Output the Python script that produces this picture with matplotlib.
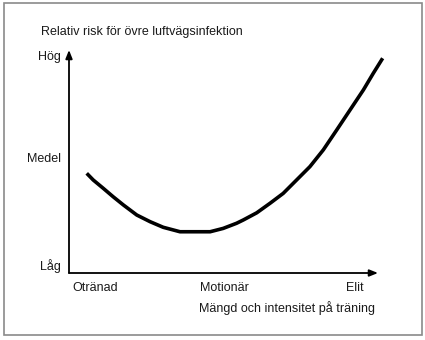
import matplotlib.pyplot as plt
from matplotlib.patches import Rectangle

# Relative risk of upper respiratory infection vs. training load (J-curve)
load = [5.7, 7.8, 11.0, 14.2, 17.5, 21.8, 26.1, 30.3, 35.7, 41.1, 45.4,
        49.6, 53.9, 56.1, 60.4, 64.7, 68.9, 73.2, 77.5, 81.8, 86.1, 90.4,
        94.7, 97.9, 100.9]
risk = [44.7, 41.7, 38.0, 34.2, 30.5, 26.0, 23.0, 20.5, 18.5, 18.5, 18.5,
        20.0, 22.3, 23.8, 27.0, 31.3, 35.7, 41.7, 47.7, 55.2, 64.1, 73.1,
        82.1, 89.6, 96.3]

y_labels = ["Låg", "Medel", "Hög"]
y_label_pos = [3, 51, 97]
x_labels = ["Otränad", "Motionär", "Elit"]
x_label_pos = [1, 42, 89]

title = "Relativ risk för övre luftvägsinfektion"
x_title = "Mängd och intensitet på träning"

plt.rcParams['font.family'] = ['Liberation Sans Narrow', 'Liberation Sans',
                               'DejaVu Sans']

W, H = 425, 340
fig = plt.figure(figsize=(W / 100, H / 100), dpi=100)

# outer frame
fig.patches.append(Rectangle((4 / W, 1 - 335 / H), 418 / W, 332 / H,
                             transform=fig.transFigure, fill=False,
                             edgecolor="#8a8a8a", linewidth=1.2))

# axes box: x 69..378 px, y 50..273 px
ax = fig.add_axes([69 / W, 1 - 273 / H, (378 - 69) / W, (273 - 50) / H])
ax.set_xlim(0, 99.4)
ax.set_ylim(0, 100)
for s in ax.spines.values():
    s.set_visible(False)
ax.set_xticks([])
ax.set_yticks([])
ax.patch.set_visible(False)

# axis arrows
arrow = dict(arrowstyle="-|>,head_length=0.5,head_width=0.2", color="black",
             lw=1.3, shrinkA=0, shrinkB=0)
ax.annotate("", xy=(0, 1.0), xytext=(0, 0), xycoords="axes fraction",
            arrowprops=arrow)
ax.annotate("", xy=(1.0, 0), xytext=(0, 0), xycoords="axes fraction",
            arrowprops=arrow)

ax.plot(load, risk, color="black", lw=2.6, solid_capstyle="butt",
        solid_joinstyle="round", clip_on=False)

fs = 9
tc = "#1a1a1a"
for lab, yp in zip(y_labels, y_label_pos):
    ax.text(-2.5, yp, lab, ha="right", va="center", fontsize=fs, color=tc)
for lab, xp in zip(x_labels, x_label_pos):
    ax.text(xp, -4, lab, ha="left", va="top", fontsize=fs, color=tc)

fig.text(41 / W, 1 - 32 / H, title, ha="left", va="center", fontsize=fs,
         color=tc)
fig.text(199 / W, 1 - 308 / H, x_title, ha="left", va="center", fontsize=fs,
         color=tc)

fig.savefig("out.png", dpi=100)
